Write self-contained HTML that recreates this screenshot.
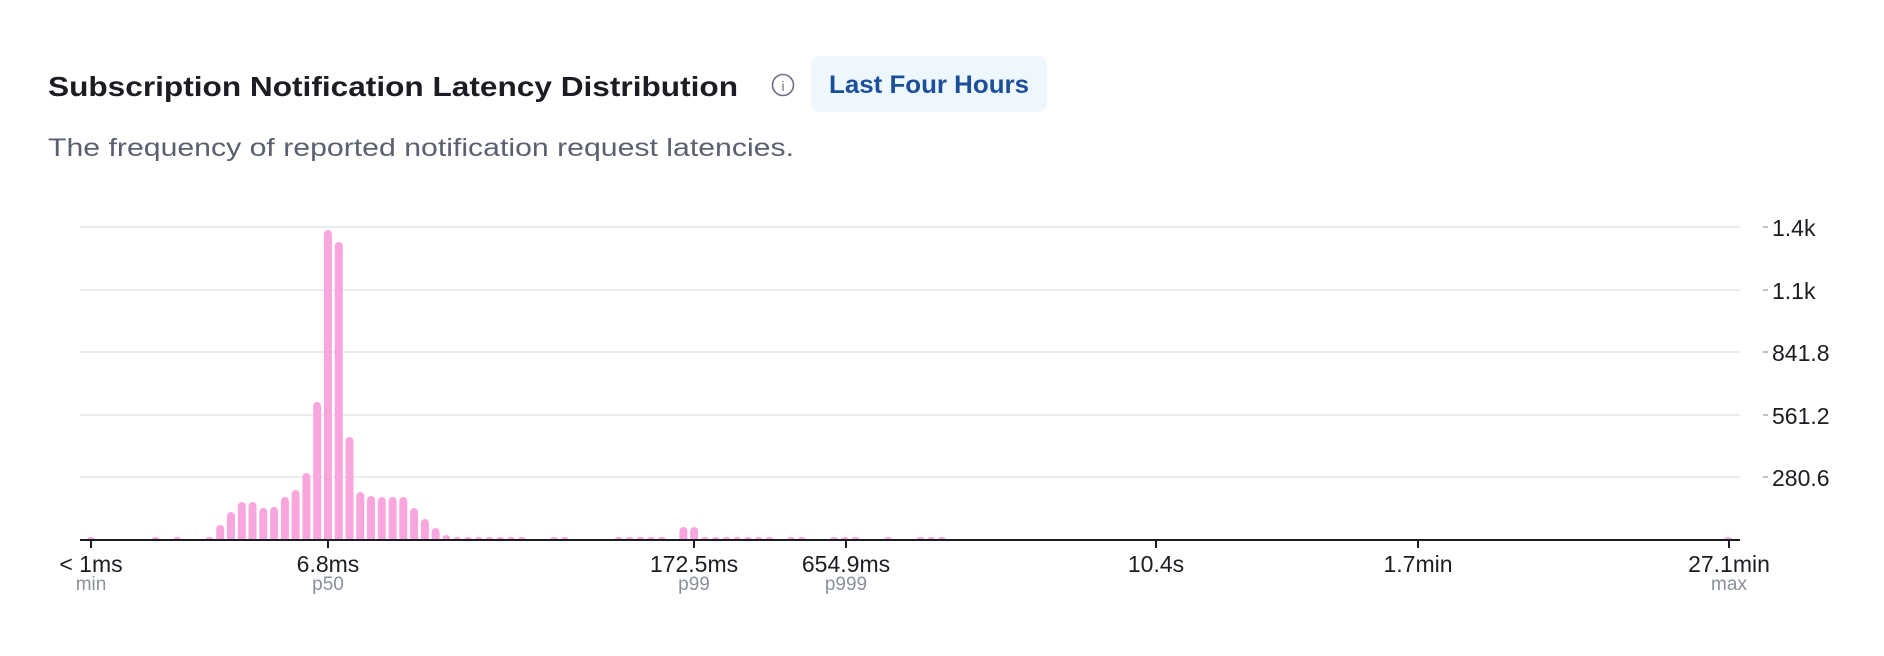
<!DOCTYPE html>
<html><head><meta charset="utf-8"><style>
html,body{margin:0;padding:0;background:#fff;width:1884px;height:656px;overflow:hidden}
svg{display:block}
text{font-family:"Liberation Sans",sans-serif}
</style></head><body>
<svg id="s" width="1884" height="656" viewBox="0 0 1884 656">
<text x="48" y="96" font-size="28" font-weight="bold" fill="#1b1d22" textLength="690" lengthAdjust="spacingAndGlyphs">Subscription Notification Latency Distribution</text>
<circle cx="783" cy="85" r="10.5" fill="none" stroke="#6b7080" stroke-width="1.6"/>
<text x="783" y="91" font-size="14" fill="#6b7080" text-anchor="middle" font-family="Liberation Serif">i</text>
<rect x="811" y="56" width="236" height="56" rx="9" fill="#eef6fe"/>
<text x="929" y="93" font-size="25" font-weight="bold" fill="#1b4f9a" text-anchor="middle" textLength="200" lengthAdjust="spacingAndGlyphs">Last Four Hours</text>
<text x="48" y="156" font-size="25" fill="#5a6070" textLength="746" lengthAdjust="spacingAndGlyphs">The frequency of reported notification request latencies.</text>
<g stroke="#ececf0" stroke-width="2">
<line x1="80" y1="227" x2="1740" y2="227"/><line x1="80" y1="290" x2="1740" y2="290"/>
<line x1="80" y1="352" x2="1740" y2="352"/><line x1="80" y1="415" x2="1740" y2="415"/>
<line x1="80" y1="477" x2="1740" y2="477"/>
</g>
<g stroke="#aaa" stroke-width="1.5">
<line x1="1763" y1="227" x2="1768" y2="227"/><line x1="1763" y1="290" x2="1768" y2="290"/>
<line x1="1763" y1="352" x2="1768" y2="352"/><line x1="1763" y1="415" x2="1768" y2="415"/>
<line x1="1763" y1="477" x2="1768" y2="477"/>
</g>
<g font-size="23" fill="#1b1d22">
<text x="1772" y="236">1.4k</text><text x="1772" y="299">1.1k</text>
<text x="1772" y="361">841.8</text><text x="1772" y="424">561.2</text>
<text x="1772" y="486">280.6</text>
</g>
<g id="bars" fill="#f9a6df"></g>
<line x1="80" y1="540" x2="1740" y2="540" stroke="#1b1d22" stroke-width="2"/>
<g stroke="#1b1d22" stroke-width="2">
<line x1="91" y1="540" x2="91" y2="548"/><line x1="328" y1="540" x2="328" y2="548"/>
<line x1="694" y1="540" x2="694" y2="548"/><line x1="846" y1="540" x2="846" y2="548"/>
<line x1="1156" y1="540" x2="1156" y2="548"/><line x1="1418" y1="540" x2="1418" y2="548"/>
<line x1="1729" y1="540" x2="1729" y2="548"/>
</g>
<g font-size="23" fill="#1b1d22" text-anchor="middle">
<text x="91" y="572">&lt; 1ms</text><text x="328" y="572">6.8ms</text>
<text x="694" y="572">172.5ms</text><text x="846" y="572">654.9ms</text>
<text x="1156" y="572">10.4s</text><text x="1418" y="572">1.7min</text>
<text x="1729" y="572">27.1min</text>
</g>
<g font-size="19" fill="#8a909c" text-anchor="middle">
<text x="91" y="590">min</text><text x="328" y="590">p50</text>
<text x="694" y="590">p99</text><text x="846" y="590">p999</text>
<text x="1729" y="590">max</text>
</g>
</svg>
<script>
var h={0:3,6:3,8:3,11:3,12:15,13:28,14:38,15:38,16:32,17:33,18:43,19:50,20:67,21:138,22:310,23:298,24:103,25:48,26:44,27:43,28:43,29:43,30:32,31:21,32:12,33:5,55:13,56:13,152:3};
[34,35,36,37,38,39,40,43,44,49,50,51,52,53,57,58,59,60,61,62,63,65,66,69,70,71,74,77,78,79].forEach(function(i){h[i]=3});
var g=document.getElementById('bars'),s='';
for(var k in h){var x=91+k*10.77,v=h[k],t=540-v,a=Math.min(5,v);
s+='M'+(x-4).toFixed(1)+' 540V'+(t+a).toFixed(1)+'Q'+(x-4).toFixed(1)+' '+t+' '+x.toFixed(1)+' '+t+'Q'+(x+4).toFixed(1)+' '+t+' '+(x+4).toFixed(1)+' '+(t+a).toFixed(1)+'V540Z';}
var p=document.createElementNS('http://www.w3.org/2000/svg','path');p.setAttribute('d',s);g.appendChild(p);
</script>
</body></html>
